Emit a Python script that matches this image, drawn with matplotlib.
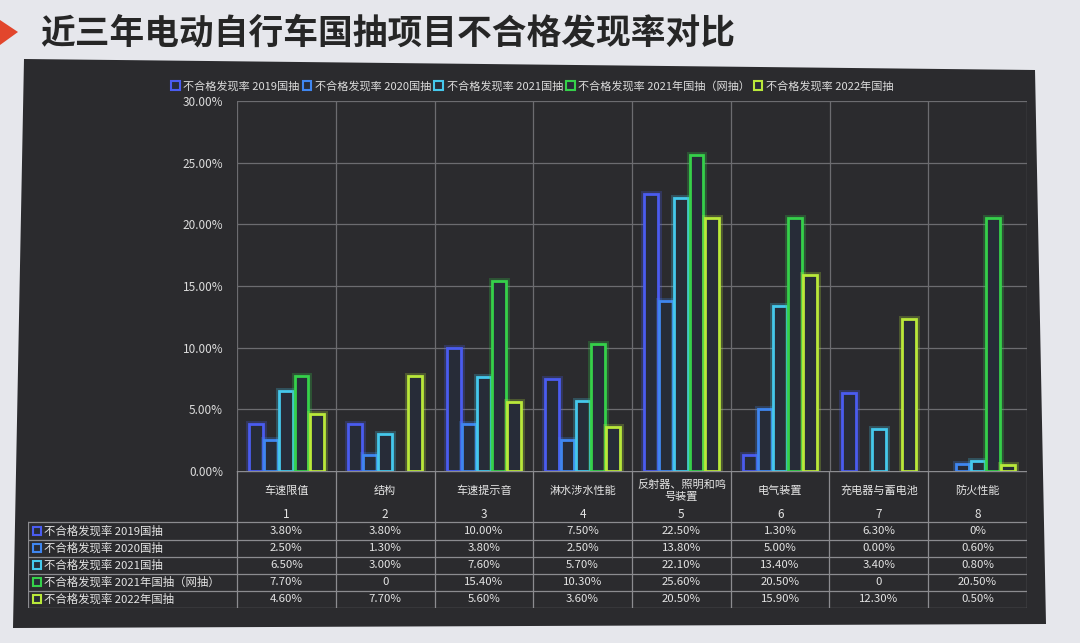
import matplotlib
matplotlib.use("Agg")
import matplotlib.pyplot as plt
import matplotlib.patheffects as pe
from matplotlib.patches import Polygon, Patch
import numpy as np

plt.rcParams['font.family'] = ['Noto Sans CJK SC', 'DejaVu Sans']

title = "近三年电动自行车国抽项目不合格发现率对比"
categories = ["车速限值", "结构", "车速提示音", "淋水涉水性能", "反射器、照明和鸣\n号装置",
              "电气装置", "充电器与蓄电池", "防火性能"]
cat_numbers = ["1", "2", "3", "4", "5", "6", "7", "8"]
series_names = ["不合格发现率 2019国抽", "不合格发现率 2020国抽", "不合格发现率 2021国抽",
                "不合格发现率 2021年国抽（网抽）", "不合格发现率 2022年国抽"]
rate_2019 = [3.8, 3.8, 10.0, 7.5, 22.5, 1.3, 6.3, 0.0]
rate_2020 = [2.5, 1.3, 3.8, 2.5, 13.8, 5.0, 0.0, 0.6]
rate_2021 = [6.5, 3.0, 7.6, 5.7, 22.1, 13.4, 3.4, 0.8]
rate_2021_web = [7.7, 0.0, 15.4, 10.3, 25.6, 20.5, 0.0, 20.5]
rate_2022 = [4.6, 7.7, 5.6, 3.6, 20.5, 15.9, 12.3, 0.5]
# texts as printed in the data table
table_text = [
    ["3.80%", "3.80%", "10.00%", "7.50%", "22.50%", "1.30%", "6.30%", "0%"],
    ["2.50%", "1.30%", "3.80%", "2.50%", "13.80%", "5.00%", "0.00%", "0.60%"],
    ["6.50%", "3.00%", "7.60%", "5.70%", "22.10%", "13.40%", "3.40%", "0.80%"],
    ["7.70%", "0", "15.40%", "10.30%", "25.60%", "20.50%", "0", "20.50%"],
    ["4.60%", "7.70%", "5.60%", "3.60%", "20.50%", "15.90%", "12.30%", "0.50%"],
]
y_ticks = [0, 5, 10, 15, 20, 25, 30]

series = [rate_2019, rate_2020, rate_2021, rate_2021_web, rate_2022]
colors = ["#4a5cf0", "#3f86f0", "#45c8ec", "#35d04a", "#b9e83a"]

W, H = 1080, 643
fig = plt.figure(figsize=(W / 100, H / 100), dpi=100)
fig.patch.set_facecolor("#e6e7ec")

def fx(px):
    return px / W

def fy(py):
    return 1 - py / H

# dark slide panel (photo is slightly skewed)
panel = Polygon([(fx(24), fy(59)), (fx(1035), fy(70)), (fx(1046), fy(624)), (fx(13), fy(628))],
                closed=True, transform=fig.transFigure, facecolor="#2b2b2e", edgecolor="none", zorder=-5)
fig.patches.append(panel)
arrow = Polygon([(fx(0), fy(20)), (fx(18), fy(32)), (fx(0), fy(45))], closed=True,
                transform=fig.transFigure, facecolor="#e2462c", edgecolor="none", zorder=-5)
fig.patches.append(arrow)
fig.text(fx(40), fy(33), title, fontsize=25, fontweight="bold", color="#262626", va="center", ha="left")

# main chart
left_px, right_px, top_px, zero_px = 237, 1027, 101, 471
ax = fig.add_axes([fx(left_px), fy(zero_px), fx(right_px - left_px), (zero_px - top_px) / H])
ax.set_facecolor("none")
x = np.arange(len(categories))
n = len(series)
bw = 0.14
step = 0.153
for i, (vals, c) in enumerate(zip(series, colors)):
    bars = ax.bar(x + (i - (n - 1) / 2) * step, vals, width=bw, facecolor="#272c38",
                  edgecolor=c, linewidth=2.0, zorder=3)
    for b, v in zip(bars, vals):
        b.set_path_effects([pe.Stroke(linewidth=5, foreground=c, alpha=0.25), pe.Normal()])
        if v == 0:
            b.set_visible(False)

ax.set_xlim(-0.5, len(categories) - 0.5)
ax.set_ylim(0, 30)
ax.set_yticks(y_ticks)
ax.set_yticklabels([f"{t:.2f}%" for t in y_ticks], color="#dcdcdc", fontsize=8.5)
ax.tick_params(length=0, pad=10)
ax.set_xticks([])
for t in y_ticks[1:]:
    ax.axhline(t, color="#6c6c70", linewidth=0.9, zorder=1)
for k in range(len(categories) + 1):
    ax.axvline(k - 0.5, color="#6c6c70", linewidth=0.9, zorder=1)
for s in ax.spines.values():
    s.set_visible(False)

handles = [Patch(facecolor="#272c38", edgecolor=c, linewidth=1.5) for c in colors]
fig.legend(handles, series_names, loc="center", bbox_to_anchor=(fx(532), fy(86)), ncol=5,
           frameon=False, fontsize=8.0, labelcolor="#dcdcdc", handlelength=0.8, handleheight=0.8,
           handletextpad=0.3, columnspacing=0.3)

# data table under the chart
tab_left_px, tab_bottom_px = 28, 608
px_per_cat = (right_px - left_px) / len(categories)
x_left = -0.5 - (left_px - tab_left_px) / px_per_cat
tax = fig.add_axes([fx(tab_left_px), fy(tab_bottom_px), fx(right_px - tab_left_px), (tab_bottom_px - zero_px) / H])
tax.set_xlim(x_left, len(categories) - 0.5)
tax.set_ylim(8, 0)
tax.axis("off")
lc = "#8c8c90"
for k in range(len(categories) + 1):
    tax.plot([k - 0.5, k - 0.5], [0, 8], color=lc, linewidth=0.9)
tax.plot([x_left, x_left], [3, 8], color=lc, linewidth=0.9)
tax.plot([-0.5, len(categories) - 0.5], [0, 0], color=lc, linewidth=1.0)
for r in range(3, 9):
    tax.plot([x_left, len(categories) - 0.5], [r, r], color=lc, linewidth=0.9)
for j, (name, num) in enumerate(zip(categories, cat_numbers)):
    tax.text(j, 1.15, name, ha="center", va="center", fontsize=8, color="#e4e4e4", linespacing=1.25)
    tax.text(j, 2.55, num, ha="center", va="center", fontsize=8.5, color="#e4e4e4")
for i, (name, c) in enumerate(zip(series_names, colors)):
    row_y = 3.5 + i
    tax.plot([x_left + 0.09], [row_y], marker="s", markersize=6, markerfacecolor="#272c38",
             markeredgecolor=c, markeredgewidth=1.5)
    tax.text(x_left + 0.16, row_y, name, ha="left", va="center", fontsize=8.2, color="#e4e4e4")
    for j, s in enumerate(table_text[i]):
        tax.text(j, row_y, s, ha="center", va="center", fontsize=8.2, color="#e4e4e4")

fig.savefig("out.png", dpi=100, facecolor=fig.get_facecolor())
